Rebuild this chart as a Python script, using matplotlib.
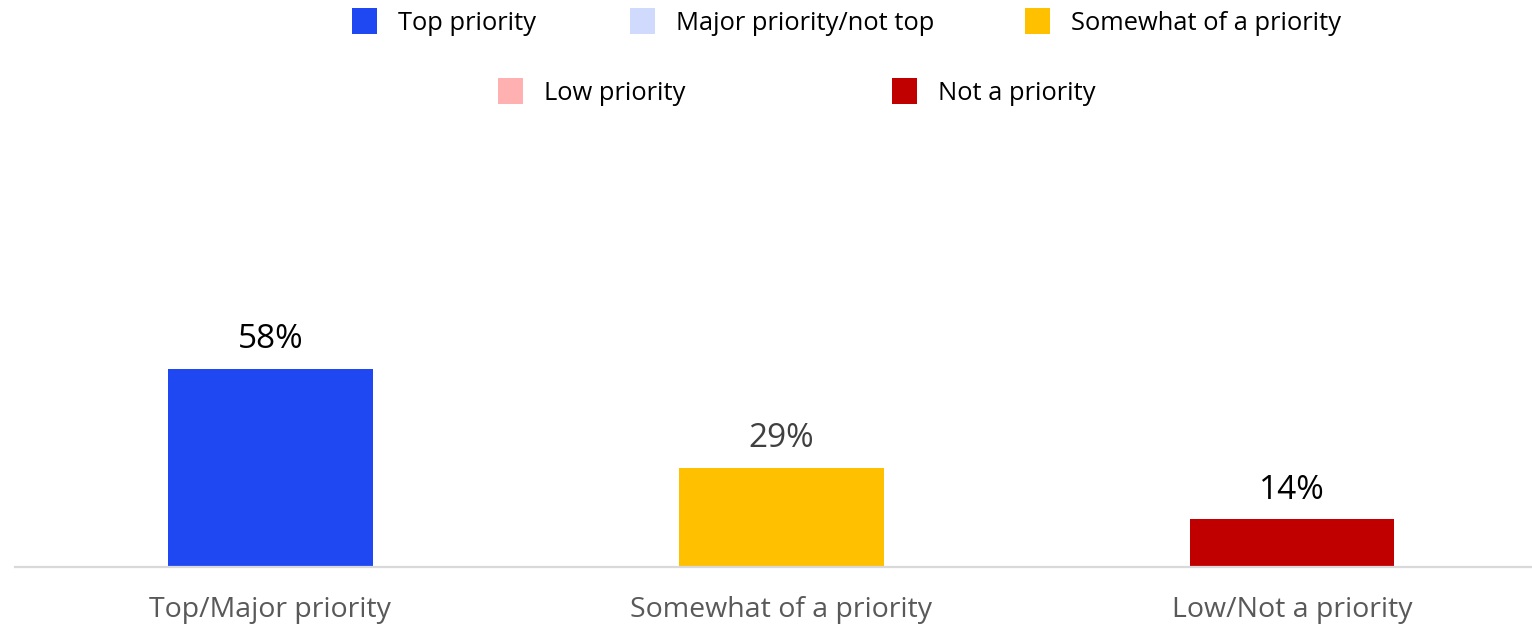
import matplotlib
matplotlib.use("Agg")
import matplotlib.pyplot as plt
from matplotlib.patches import Rectangle

categories = ["Top/Major priority", "Somewhat of a priority", "Low/Not a priority"]
series_names = ["Top priority", "Major priority/not top", "Somewhat of a priority",
                "Low priority", "Not a priority"]
top_priority = [58, 0, 0]
major_not_top = [0, 0, 0]
somewhat = [0, 29, 0]
low_priority = [0, 0, 0]
not_priority = [0, 0, 14]
totals = [58, 29, 14]
label_colors = ["#000000", "#404040", "#000000"]

colors = ["#1F48F3", "#D0DAFC", "#FFC000", "#FFB0B0", "#C00000"]
series = [top_priority, major_not_top, somewhat, low_priority, not_priority]

W, H = 1532, 625
fig = plt.figure(figsize=(W / 100, H / 100), dpi=100)
ax = fig.add_axes([15 / W, 1 - 567 / H, (W - 15) / W, (567 - 225.6) / H])

x = list(range(len(categories)))
bottom = [0] * len(categories)
for vals, col in zip(series, colors):
    ax.bar(x, vals, width=0.401, bottom=bottom, color=col, linewidth=0)
    bottom = [b + v for b, v in zip(bottom, vals)]

for xi, t, c in zip(x, totals, label_colors):
    ax.annotate(f"{t}%", (xi, t), xytext=(0, 9), textcoords="offset points",
                ha="center", va="bottom", fontsize=24, color=c, family="Open Sans")

ax.set_xlim(-0.5, 2.47)
ax.set_ylim(0, 100)
ax.set_yticks([])
ax.set_xticks(x)
ax.set_xticklabels(categories, fontsize=20.5, color="#595959", family="Open Sans")
ax.tick_params(axis="x", length=0, pad=21)
for s in ["top", "right", "left"]:
    ax.spines[s].set_visible(False)
ax.spines["bottom"].set_color("#D9D9D9")
ax.spines["bottom"].set_linewidth(1.6)

# Legend laid out in two rows
legend_pos = [(352, 21), (630, 21), (1025, 21), (498, 91), (892, 91)]
for (px, py), col, name in zip(legend_pos, colors, series_names):
    fig.patches.append(Rectangle((px / W, 1 - (py + 12.5) / H), 25 / W, 25 / H,
                                 transform=fig.transFigure, facecolor=col,
                                 edgecolor="none"))
    fig.text((px + 46) / W, 1 - (py + 2) / H, name, fontsize=18.4, color="#000000",
             va="center", ha="left", family="Open Sans")

fig.savefig("out.png", dpi=100)
